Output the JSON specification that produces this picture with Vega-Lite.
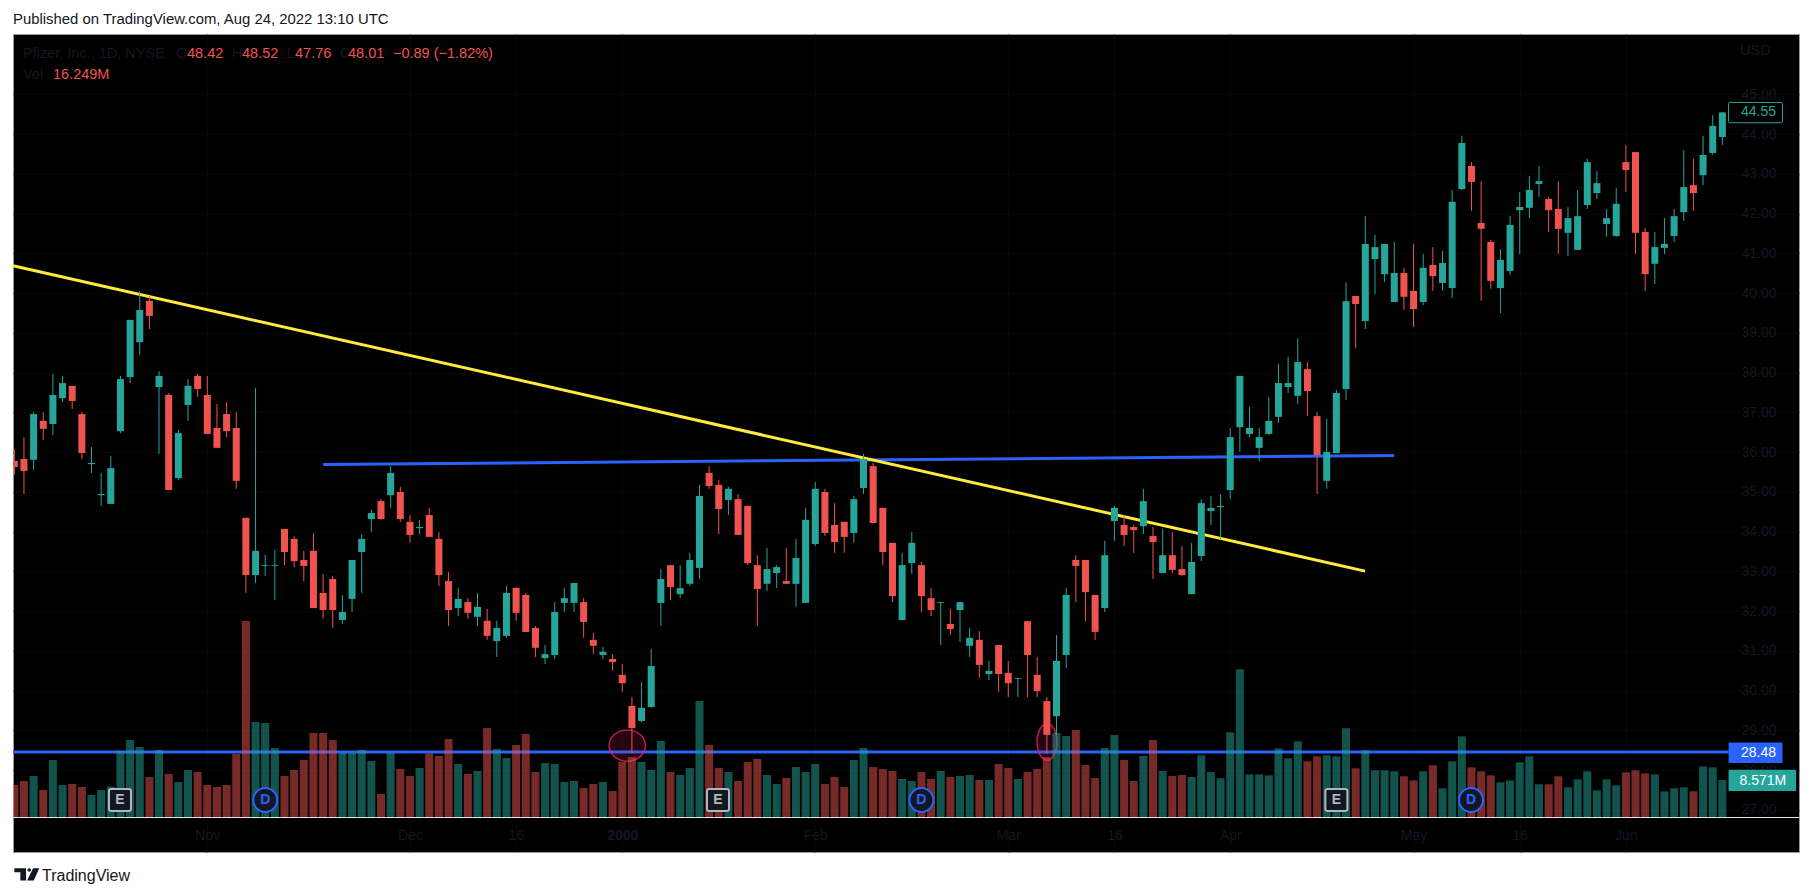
{
"$schema":"https://vega.github.io/schema/vega-lite/v6.json",
"width":1786,"height":818,"autosize":"none",
"padding":{"left":13,"top":34,"right":14,"bottom":44},
"background":"#ffffff",
"view":{"fill":"#000000","stroke":"#9598a1","strokeWidth":1},
"config":{"font":"Liberation Sans"},
"title":{"text":"Published on TradingView.com, Aug 24, 2022 13:10 UTC","anchor":"start","frame":"group","orient":"top","offset":7,"fontSize":14.9,"fontWeight":"normal","color":"#131722"},
"datasets":{
"candles":[
{"i":0,"open":35.78,"close":35.63,"high":36.08,"low":35.43,"vol":7.41,"dir":"d"},
{"i":1,"open":35.83,"close":35.53,"high":36.38,"low":34.95,"vol":8.34,"dir":"d"},
{"i":2,"open":35.81,"close":36.96,"high":37.01,"low":35.55,"vol":9.5,"dir":"u"},
{"i":3,"open":36.79,"close":36.59,"high":37.01,"low":36.31,"vol":6.25,"dir":"d"},
{"i":4,"open":36.71,"close":37.44,"high":37.97,"low":36.43,"vol":13.2,"dir":"u"},
{"i":5,"open":37.36,"close":37.74,"high":37.92,"low":37.26,"vol":7.41,"dir":"u"},
{"i":6,"open":37.67,"close":37.29,"high":37.67,"low":37.09,"vol":7.64,"dir":"d"},
{"i":7,"open":36.96,"close":35.98,"high":37.01,"low":35.83,"vol":6.95,"dir":"d"},
{"i":8,"open":35.7,"close":35.73,"high":36.13,"low":35.48,"vol":5.1,"dir":"u"},
{"i":9,"open":34.92,"close":34.95,"high":35.48,"low":34.65,"vol":6.25,"dir":"u"},
{"i":10,"open":34.7,"close":35.6,"high":35.91,"low":34.7,"vol":7.03,"dir":"u"},
{"i":11,"open":36.53,"close":37.84,"high":37.92,"low":36.48,"vol":15.29,"dir":"u"},
{"i":12,"open":37.89,"close":39.33,"high":39.33,"low":37.74,"vol":17.83,"dir":"u"},
{"i":13,"open":38.77,"close":39.58,"high":40.06,"low":38.45,"vol":16.21,"dir":"u"},
{"i":14,"open":39.81,"close":39.43,"high":39.93,"low":39.1,"vol":9.26,"dir":"d"},
{"i":15,"open":37.64,"close":37.92,"high":38.04,"low":35.96,"vol":15.52,"dir":"u"},
{"i":16,"open":37.44,"close":35.05,"high":37.49,"low":35.05,"vol":9.96,"dir":"d"},
{"i":17,"open":35.35,"close":36.48,"high":36.56,"low":35.3,"vol":8.11,"dir":"u"},
{"i":18,"open":37.19,"close":37.67,"high":37.84,"low":36.79,"vol":10.89,"dir":"u"},
{"i":19,"open":37.92,"close":37.59,"high":37.97,"low":37.39,"vol":10.42,"dir":"d"},
{"i":20,"open":37.44,"close":36.46,"high":37.92,"low":36.46,"vol":7.41,"dir":"d"},
{"i":21,"open":36.61,"close":36.11,"high":37.21,"low":36.11,"vol":6.95,"dir":"d"},
{"i":22,"open":36.96,"close":36.53,"high":37.26,"low":36.38,"vol":7.41,"dir":"d"},
{"i":23,"open":36.61,"close":35.28,"high":37.01,"low":35.08,"vol":14.59,"dir":"d"},
{"i":24,"open":34.35,"close":32.91,"high":34.35,"low":32.46,"vol":45.39,"dir":"d"},
{"i":25,"open":32.91,"close":33.52,"high":37.62,"low":32.71,"vol":22.0,"dir":"u"},
{"i":26,"open":33.14,"close":33.16,"high":33.42,"low":32.89,"vol":21.77,"dir":"u"},
{"i":27,"open":33.14,"close":33.16,"high":33.54,"low":32.28,"vol":15.98,"dir":"u"},
{"i":28,"open":34.07,"close":33.49,"high":34.07,"low":33.16,"vol":9.5,"dir":"d"},
{"i":29,"open":33.82,"close":33.26,"high":33.89,"low":33.11,"vol":10.89,"dir":"d"},
{"i":30,"open":33.29,"close":33.14,"high":33.52,"low":32.76,"vol":13.2,"dir":"d"},
{"i":31,"open":33.52,"close":32.08,"high":33.97,"low":32.08,"vol":19.45,"dir":"d"},
{"i":32,"open":32.46,"close":32.03,"high":32.94,"low":31.81,"vol":19.45,"dir":"d"},
{"i":33,"open":32.81,"close":32.03,"high":32.89,"low":31.58,"vol":17.83,"dir":"d"},
{"i":34,"open":31.78,"close":31.98,"high":32.41,"low":31.68,"vol":14.82,"dir":"u"},
{"i":35,"open":32.31,"close":33.29,"high":33.29,"low":31.98,"vol":14.82,"dir":"u"},
{"i":36,"open":33.49,"close":33.82,"high":33.94,"low":32.46,"vol":15.52,"dir":"u"},
{"i":37,"open":34.32,"close":34.47,"high":34.55,"low":33.99,"vol":12.97,"dir":"u"},
{"i":38,"open":34.77,"close":34.32,"high":34.82,"low":34.3,"vol":5.33,"dir":"d"},
{"i":39,"open":34.92,"close":35.48,"high":35.65,"low":34.6,"vol":14.82,"dir":"u"},
{"i":40,"open":35.0,"close":34.32,"high":35.13,"low":34.25,"vol":11.12,"dir":"d"},
{"i":41,"open":34.25,"close":33.92,"high":34.42,"low":33.72,"vol":9.5,"dir":"d"},
{"i":42,"open":34.09,"close":34.12,"high":34.3,"low":33.94,"vol":11.35,"dir":"u"},
{"i":43,"open":34.42,"close":33.87,"high":34.6,"low":33.87,"vol":14.67,"dir":"d"},
{"i":44,"open":33.82,"close":32.91,"high":33.99,"low":32.64,"vol":14.13,"dir":"d"},
{"i":45,"open":32.76,"close":32.03,"high":32.99,"low":31.63,"vol":18.06,"dir":"d"},
{"i":46,"open":32.08,"close":32.31,"high":32.59,"low":31.88,"vol":12.27,"dir":"u"},
{"i":47,"open":32.23,"close":31.96,"high":32.33,"low":31.81,"vol":9.96,"dir":"d"},
{"i":48,"open":31.86,"close":32.11,"high":32.46,"low":31.63,"vol":10.65,"dir":"u"},
{"i":49,"open":31.76,"close":31.38,"high":32.06,"low":31.28,"vol":20.61,"dir":"d"},
{"i":50,"open":31.25,"close":31.58,"high":31.76,"low":30.85,"vol":15.75,"dir":"u"},
{"i":51,"open":31.38,"close":32.46,"high":32.64,"low":31.33,"vol":13.66,"dir":"u"},
{"i":52,"open":32.59,"close":31.96,"high":32.59,"low":31.76,"vol":16.68,"dir":"d"},
{"i":53,"open":32.41,"close":31.48,"high":32.46,"low":31.48,"vol":19.22,"dir":"d"},
{"i":54,"open":31.58,"close":31.08,"high":31.63,"low":30.85,"vol":10.42,"dir":"d"},
{"i":55,"open":30.82,"close":30.92,"high":31.15,"low":30.67,"vol":12.51,"dir":"u"},
{"i":56,"open":30.9,"close":31.98,"high":32.23,"low":30.8,"vol":12.27,"dir":"u"},
{"i":57,"open":32.21,"close":32.33,"high":32.59,"low":31.98,"vol":8.11,"dir":"u"},
{"i":58,"open":32.21,"close":32.71,"high":32.71,"low":31.98,"vol":8.34,"dir":"u"},
{"i":59,"open":32.23,"close":31.73,"high":32.33,"low":31.33,"vol":6.72,"dir":"d"},
{"i":60,"open":31.28,"close":31.13,"high":31.45,"low":30.92,"vol":7.64,"dir":"d"},
{"i":61,"open":30.9,"close":30.98,"high":31.1,"low":30.8,"vol":8.11,"dir":"u"},
{"i":62,"open":30.8,"close":30.72,"high":30.92,"low":30.5,"vol":6.02,"dir":"d"},
{"i":63,"open":30.4,"close":30.19,"high":30.67,"low":29.97,"vol":12.74,"dir":"d"},
{"i":64,"open":29.62,"close":29.06,"high":29.84,"low":28.43,"vol":13.9,"dir":"d"},
{"i":65,"open":29.24,"close":29.57,"high":30.22,"low":29.21,"vol":12.74,"dir":"u"},
{"i":66,"open":29.59,"close":30.62,"high":31.05,"low":29.57,"vol":10.89,"dir":"u"},
{"i":67,"open":32.21,"close":32.81,"high":33.06,"low":31.63,"vol":17.6,"dir":"u"},
{"i":68,"open":33.16,"close":32.61,"high":33.16,"low":32.28,"vol":10.42,"dir":"d"},
{"i":69,"open":32.43,"close":32.58,"high":33.16,"low":32.33,"vol":9.73,"dir":"u"},
{"i":70,"open":32.69,"close":33.29,"high":33.47,"low":32.64,"vol":11.35,"dir":"u"},
{"i":71,"open":33.09,"close":34.9,"high":35.18,"low":32.81,"vol":26.87,"dir":"u"},
{"i":72,"open":35.48,"close":35.15,"high":35.65,"low":35.08,"vol":16.68,"dir":"d"},
{"i":73,"open":35.18,"close":34.57,"high":35.3,"low":33.94,"vol":11.35,"dir":"d"},
{"i":74,"open":34.8,"close":35.08,"high":35.13,"low":34.42,"vol":10.42,"dir":"u"},
{"i":75,"open":34.82,"close":33.92,"high":34.95,"low":33.92,"vol":8.34,"dir":"d"},
{"i":76,"open":34.65,"close":33.21,"high":34.65,"low":33.16,"vol":12.74,"dir":"d"},
{"i":77,"open":33.16,"close":32.56,"high":33.41,"low":31.63,"vol":13.43,"dir":"d"},
{"i":78,"open":32.69,"close":33.06,"high":33.59,"low":32.51,"vol":9.73,"dir":"u"},
{"i":79,"open":32.96,"close":33.11,"high":33.16,"low":32.58,"vol":7.64,"dir":"u"},
{"i":80,"open":32.76,"close":32.69,"high":33.59,"low":32.69,"vol":9.03,"dir":"d"},
{"i":81,"open":32.69,"close":33.34,"high":33.82,"low":32.11,"vol":11.58,"dir":"u"},
{"i":82,"open":32.21,"close":34.3,"high":34.6,"low":32.21,"vol":10.42,"dir":"u"},
{"i":83,"open":33.69,"close":35.08,"high":35.25,"low":33.64,"vol":12.27,"dir":"u"},
{"i":84,"open":35.0,"close":33.97,"high":35.08,"low":33.89,"vol":7.64,"dir":"d"},
{"i":85,"open":34.17,"close":33.74,"high":34.72,"low":33.47,"vol":9.26,"dir":"d"},
{"i":86,"open":34.25,"close":33.87,"high":34.25,"low":33.47,"vol":6.95,"dir":"d"},
{"i":87,"open":33.97,"close":34.82,"high":34.9,"low":33.72,"vol":13.2,"dir":"u"},
{"i":88,"open":35.1,"close":35.83,"high":35.96,"low":34.95,"vol":15.98,"dir":"u"},
{"i":89,"open":35.65,"close":34.22,"high":35.73,"low":34.22,"vol":11.58,"dir":"d"},
{"i":90,"open":34.6,"close":33.49,"high":34.6,"low":33.16,"vol":11.12,"dir":"d"},
{"i":91,"open":33.72,"close":32.38,"high":33.72,"low":32.23,"vol":10.65,"dir":"d"},
{"i":92,"open":31.78,"close":33.16,"high":33.47,"low":31.78,"vol":8.8,"dir":"u"},
{"i":93,"open":33.21,"close":33.72,"high":33.99,"low":32.94,"vol":8.34,"dir":"u"},
{"i":94,"open":33.16,"close":32.38,"high":33.24,"low":31.98,"vol":10.42,"dir":"d"},
{"i":95,"open":32.33,"close":32.03,"high":32.58,"low":31.88,"vol":8.8,"dir":"d"},
{"i":96,"open":32.21,"close":32.23,"high":32.23,"low":31.15,"vol":10.65,"dir":"u"},
{"i":97,"open":31.68,"close":31.55,"high":32.06,"low":31.4,"vol":9.26,"dir":"d"},
{"i":98,"open":32.03,"close":32.23,"high":32.23,"low":31.23,"vol":9.5,"dir":"u"},
{"i":99,"open":31.13,"close":31.33,"high":31.58,"low":30.85,"vol":9.73,"dir":"u"},
{"i":100,"open":31.28,"close":30.65,"high":31.5,"low":30.32,"vol":8.57,"dir":"d"},
{"i":101,"open":30.42,"close":30.5,"high":30.75,"low":30.27,"vol":8.57,"dir":"u"},
{"i":102,"open":31.15,"close":30.42,"high":31.15,"low":29.97,"vol":12.27,"dir":"d"},
{"i":103,"open":30.45,"close":30.19,"high":30.75,"low":29.84,"vol":11.35,"dir":"d"},
{"i":104,"open":30.3,"close":30.32,"high":30.32,"low":29.84,"vol":8.8,"dir":"u"},
{"i":105,"open":31.75,"close":30.9,"high":31.75,"low":29.84,"vol":10.42,"dir":"d"},
{"i":106,"open":30.4,"close":29.99,"high":30.85,"low":29.84,"vol":11.12,"dir":"d"},
{"i":107,"open":29.74,"close":28.89,"high":29.84,"low":28.41,"vol":13.9,"dir":"d"},
{"i":108,"open":29.36,"close":30.75,"high":31.4,"low":28.89,"vol":19.45,"dir":"u"},
{"i":109,"open":30.9,"close":32.41,"high":32.58,"low":30.57,"vol":18.76,"dir":"u"},
{"i":110,"open":33.29,"close":33.14,"high":33.41,"low":32.23,"vol":20.15,"dir":"d"},
{"i":111,"open":33.29,"close":32.48,"high":33.29,"low":31.75,"vol":12.04,"dir":"d"},
{"i":112,"open":32.41,"close":31.48,"high":32.41,"low":31.28,"vol":9.03,"dir":"d"},
{"i":113,"open":32.08,"close":33.41,"high":33.77,"low":31.98,"vol":15.98,"dir":"u"},
{"i":114,"open":34.27,"close":34.6,"high":34.65,"low":33.77,"vol":18.99,"dir":"u"},
{"i":115,"open":34.17,"close":33.92,"high":34.42,"low":33.64,"vol":13.2,"dir":"d"},
{"i":116,"open":34.12,"close":34.04,"high":34.17,"low":33.47,"vol":8.34,"dir":"d"},
{"i":117,"open":34.14,"close":34.77,"high":35.08,"low":33.94,"vol":14.13,"dir":"u"},
{"i":118,"open":33.89,"close":33.74,"high":34.12,"low":32.81,"vol":17.83,"dir":"d"},
{"i":119,"open":32.96,"close":33.41,"high":34.07,"low":32.96,"vol":10.65,"dir":"u"},
{"i":120,"open":33.41,"close":33.04,"high":33.99,"low":32.96,"vol":9.5,"dir":"d"},
{"i":121,"open":33.06,"close":32.91,"high":33.64,"low":32.89,"vol":9.73,"dir":"d"},
{"i":122,"open":32.43,"close":33.24,"high":33.72,"low":32.43,"vol":9.26,"dir":"u"},
{"i":123,"open":33.39,"close":34.72,"high":34.82,"low":33.26,"vol":14.3,"dir":"u"},
{"i":124,"open":34.52,"close":34.6,"high":34.9,"low":34.17,"vol":10.4,"dir":"u"},
{"i":125,"open":34.62,"close":34.65,"high":34.95,"low":33.81,"vol":8.96,"dir":"u"},
{"i":126,"open":35.05,"close":36.38,"high":36.61,"low":34.82,"vol":19.61,"dir":"u"},
{"i":127,"open":36.63,"close":37.92,"high":37.92,"low":36.01,"vol":34.2,"dir":"u"},
{"i":128,"open":36.46,"close":36.61,"high":37.14,"low":36.38,"vol":9.88,"dir":"u"},
{"i":129,"open":36.11,"close":36.38,"high":36.61,"low":35.78,"vol":9.88,"dir":"u"},
{"i":130,"open":36.46,"close":36.79,"high":37.39,"low":36.43,"vol":9.65,"dir":"u"},
{"i":131,"open":36.89,"close":37.74,"high":38.22,"low":36.74,"vol":15.9,"dir":"u"},
{"i":132,"open":37.64,"close":37.74,"high":38.4,"low":37.49,"vol":13.59,"dir":"u"},
{"i":133,"open":37.42,"close":38.27,"high":38.87,"low":37.21,"vol":17.52,"dir":"u"},
{"i":134,"open":38.09,"close":37.54,"high":38.27,"low":36.91,"vol":12.89,"dir":"d"},
{"i":135,"open":36.91,"close":35.93,"high":37.01,"low":34.95,"vol":14.05,"dir":"d"},
{"i":136,"open":35.28,"close":36.01,"high":36.84,"low":35.08,"vol":14.28,"dir":"u"},
{"i":137,"open":35.98,"close":37.49,"high":37.57,"low":35.98,"vol":14.05,"dir":"u"},
{"i":138,"open":37.59,"close":39.8,"high":40.28,"low":37.31,"vol":20.54,"dir":"u"},
{"i":139,"open":39.93,"close":39.73,"high":39.93,"low":38.62,"vol":11.27,"dir":"d"},
{"i":140,"open":39.3,"close":41.24,"high":41.94,"low":39.1,"vol":15.44,"dir":"u"},
{"i":141,"open":40.86,"close":41.16,"high":41.47,"low":39.98,"vol":10.81,"dir":"u"},
{"i":142,"open":40.48,"close":41.24,"high":41.24,"low":40.28,"vol":10.81,"dir":"u"},
{"i":143,"open":39.78,"close":40.51,"high":41.29,"low":39.78,"vol":10.58,"dir":"u"},
{"i":144,"open":40.51,"close":39.91,"high":40.64,"low":39.58,"vol":9.42,"dir":"d"},
{"i":145,"open":40.06,"close":39.6,"high":41.24,"low":39.15,"vol":8.49,"dir":"d"},
{"i":146,"open":39.78,"close":40.64,"high":40.99,"low":39.7,"vol":10.58,"dir":"u"},
{"i":147,"open":40.71,"close":40.43,"high":41.16,"low":40.06,"vol":11.97,"dir":"d"},
{"i":148,"open":40.26,"close":40.76,"high":41.06,"low":40.06,"vol":6.64,"dir":"u"},
{"i":149,"open":40.13,"close":42.3,"high":42.6,"low":39.88,"vol":12.89,"dir":"u"},
{"i":150,"open":42.62,"close":43.78,"high":43.96,"low":42.6,"vol":18.68,"dir":"u"},
{"i":151,"open":43.2,"close":42.8,"high":43.3,"low":42.07,"vol":11.5,"dir":"d"},
{"i":152,"open":41.77,"close":41.62,"high":42.82,"low":39.81,"vol":10.58,"dir":"d"},
{"i":153,"open":41.29,"close":40.31,"high":41.34,"low":40.11,"vol":9.65,"dir":"d"},
{"i":154,"open":40.13,"close":40.84,"high":41.11,"low":39.5,"vol":8.03,"dir":"u"},
{"i":155,"open":40.56,"close":41.72,"high":41.94,"low":40.46,"vol":8.49,"dir":"u"},
{"i":156,"open":42.09,"close":42.17,"high":42.55,"low":40.99,"vol":12.66,"dir":"u"},
{"i":157,"open":42.15,"close":42.6,"high":42.95,"low":41.89,"vol":14.05,"dir":"u"},
{"i":158,"open":42.75,"close":42.82,"high":43.2,"low":42.42,"vol":7.57,"dir":"u"},
{"i":159,"open":42.37,"close":42.09,"high":42.42,"low":41.54,"vol":7.57,"dir":"d"},
{"i":160,"open":42.12,"close":41.62,"high":42.82,"low":40.99,"vol":9.42,"dir":"d"},
{"i":161,"open":41.52,"close":41.89,"high":42.17,"low":40.94,"vol":6.87,"dir":"u"},
{"i":162,"open":41.09,"close":41.94,"high":42.6,"low":41.09,"vol":8.72,"dir":"u"},
{"i":163,"open":42.22,"close":43.3,"high":43.38,"low":42.12,"vol":10.58,"dir":"u"},
{"i":164,"open":42.52,"close":42.77,"high":43.08,"low":42.37,"vol":6.18,"dir":"u"},
{"i":165,"open":41.74,"close":41.89,"high":42.12,"low":41.42,"vol":8.72,"dir":"u"},
{"i":166,"open":41.44,"close":42.25,"high":42.65,"low":41.42,"vol":7.33,"dir":"u"},
{"i":167,"open":43.3,"close":43.1,"high":43.73,"low":42.55,"vol":10.34,"dir":"d"},
{"i":168,"open":43.55,"close":41.52,"high":43.55,"low":40.99,"vol":10.81,"dir":"d"},
{"i":169,"open":41.54,"close":40.48,"high":41.64,"low":40.06,"vol":10.11,"dir":"d"},
{"i":170,"open":40.74,"close":41.16,"high":41.54,"low":40.23,"vol":9.88,"dir":"u"},
{"i":171,"open":41.14,"close":41.24,"high":41.89,"low":40.99,"vol":5.94,"dir":"u"},
{"i":172,"open":41.44,"close":41.94,"high":42.12,"low":41.29,"vol":6.64,"dir":"u"},
{"i":173,"open":42.04,"close":42.67,"high":43.6,"low":41.82,"vol":6.87,"dir":"u"},
{"i":174,"open":42.72,"close":42.52,"high":43.38,"low":42.07,"vol":5.94,"dir":"d"},
{"i":175,"open":42.97,"close":43.48,"high":43.96,"low":42.72,"vol":11.73,"dir":"u"},
{"i":176,"open":43.53,"close":44.21,"high":44.48,"low":43.48,"vol":11.5,"dir":"u"},
{"i":177,"open":43.93,"close":44.55,"high":44.55,"low":43.73,"vol":8.57,"dir":"u"}
],
"blueLines":[
{"line":"resistance","i":32,"price":35.69},
{"line":"resistance","i":143,"price":35.92},
{"line":"support","i":-0.135,"price":28.46},
{"line":"support","i":177.64,"price":28.46}
],
"trend":[{"i":-0.135,"price":40.69},{"i":139.97,"price":33.01}],
"dark":[
{"i":0.9,"price":46.02,"label":"Pfizer, Inc., 1D, NYSE"},
{"i":16.76,"price":46.02,"label":"O"},
{"i":22.56,"price":46.02,"label":"H"},
{"i":28.26,"price":46.02,"label":"L"},
{"i":33.75,"price":46.02,"label":"C"},
{"i":0.9,"price":45.49,"label":"Vol"},
{"i":178.83,"price":46.09,"label":"USD"}
],
"red":[
{"i":17.9,"price":46.02,"label":"48.42"},
{"i":23.6,"price":46.02,"label":"48.52"},
{"i":29.09,"price":46.02,"label":"47.76"},
{"i":34.58,"price":46.02,"label":"48.01"},
{"i":39.24,"price":46.02,"label":"−0.89 (−1.82%)"},
{"i":4.01,"price":45.49,"label":"16.249M"}
],
"earnings":[{"i":10.95,"price":27.25,"label":"E"},{"i":72.92,"price":27.25,"label":"E"},{"i":137.0,"price":27.25,"label":"E"}],
"dividends":[{"i":26.0,"price":27.25,"label":"D"},{"i":94.0,"price":27.25,"label":"D"},{"i":150.95,"price":27.25,"label":"D"}]
},
"resolve":{"scale":{"y":"independent"}},
"encoding":{"x":{"field":"i","type":"quantitative","title":null,"scale":{"domain":[-0.135,184.94],"nice":false,"zero":false,"padding":0},
"axis":{"values":[20,41,52,63,83,103,114,126,145,156,167],"offset":-35,"ticks":false,"domainColor":"#e8e8e8","domainWidth":1,"gridColor":"#07070a","grid":true,"labelColor":"#131722","labelFontSize":14,"labelPadding":11,"labelFlush":false,"labelOverlap":false,
"labelExpr":"{'20':'Nov','41':'Dec','52':'16','63':'2000','83':'Feb','103':'Mar','114':'16','126':'Apr','145':'May','156':'16','167':'Jun'}[datum.value]",
"labelFontWeight":{"condition":{"test":"datum.value === 63","value":"bold"},"value":"normal"}}}},
"layer":[
{"data":{"name":"blueLines"},"mark":{"type":"line","color":"#2962ff","strokeWidth":3},
"encoding":{"detail":{"field":"line"},"y":{"field":"price","type":"quantitative","title":null,"scale":{"domain":[25.943,46.522],"nice":false,"zero":false},
"axis":{"values":[27,28,29,30,31,32,33,34,35,36,37,38,39,40,41,42,43,44,45],"orient":"right","offset":-72,"domain":false,"ticks":false,"format":".2f","gridColor":"#07070a","grid":true,"labelColor":"#131722","labelFontSize":14,"labelPadding":14,"labelOverlap":false}}}},
{"data":{"name":"trend"},"mark":{"type":"line","color":"#ffeb3b","strokeWidth":3},
"encoding":{"y":{"field":"price","type":"quantitative","scale":{"domain":[25.943,46.522],"nice":false,"zero":false},"axis":null}}},
{"data":{"values":[{"i":63.52,"price":28.62}]},"mark":{"type":"point","filled":true,"shape":"M-1,0A1,0.86,0,1,1,1,0A1,0.86,0,1,1,-1,0Z","size":1325,"fill":"#e91e63","fillOpacity":0.16,"stroke":"#e91e63","strokeOpacity":0.8,"strokeWidth":1.5},
"encoding":{"y":{"field":"price","type":"quantitative","scale":{"domain":[25.943,46.522],"nice":false,"zero":false},"axis":null}}},
{"data":{"values":[{"i":107.02,"price":28.71}]},"mark":{"type":"point","filled":true,"shape":"M-0.546,0A0.546,1,0,1,1,0.546,0A0.546,1,0,1,1,-0.546,0Z","size":1340,"fill":"#e91e63","fillOpacity":0.16,"stroke":"#e91e63","strokeOpacity":0.8,"strokeWidth":1.5},
"encoding":{"y":{"field":"price","type":"quantitative","scale":{"domain":[25.943,46.522],"nice":false,"zero":false},"axis":null}}},
{"data":{"name":"candles"},"mark":{"type":"bar","size":8,"opacity":0.5,"clip":true},
"encoding":{"y":{"field":"vol","type":"quantitative","scale":{"domain":[-8.106,181.34],"nice":false,"zero":false},"axis":null},"y2":{"datum":0},
"color":{"field":"dir","type":"nominal","legend":null,"scale":{"domain":["u","d"],"range":["#26a69a","#ef5350"]}}}},
{"data":{"name":"candles"},"mark":{"type":"rule","strokeWidth":1,"clip":true},
"encoding":{"y":{"field":"low","type":"quantitative","scale":{"domain":[25.943,46.522],"nice":false,"zero":false},"axis":null},"y2":{"field":"high"},
"color":{"field":"dir","type":"nominal","legend":null,"scale":{"domain":["u","d"],"range":["#26a69a","#ef5350"]}}}},
{"data":{"name":"candles"},"mark":{"type":"bar","size":7,"clip":true},
"encoding":{"y":{"field":"open","type":"quantitative","scale":{"domain":[25.943,46.522],"nice":false,"zero":false},"axis":null},"y2":{"field":"close"},
"color":{"field":"dir","type":"nominal","legend":null,"scale":{"domain":["u","d"],"range":["#26a69a","#ef5350"]}}}},
{"data":{"name":"earnings"},"mark":{"type":"point","filled":true,"shape":"M-0.8,-1L0.8,-1Q1,-1,1,-0.8L1,0.8Q1,1,0.8,1L-0.8,1Q-1,1,-1,0.8L-1,-0.8Q-1,-1,-0.8,-1Z","size":484,"fill":"#131722","stroke":"#b2b5be","strokeWidth":2,"opacity":1},
"encoding":{"y":{"field":"price","type":"quantitative","scale":{"domain":[25.943,46.522],"nice":false,"zero":false},"axis":null}}},
{"data":{"name":"earnings"},"mark":{"type":"text","fontSize":14,"fontWeight":"bold","color":"#b2b5be","baseline":"middle"},
"encoding":{"text":{"field":"label"},"y":{"field":"price","type":"quantitative","scale":{"domain":[25.943,46.522],"nice":false,"zero":false},"axis":null}}},
{"data":{"name":"dividends"},"mark":{"type":"point","filled":true,"shape":"circle","size":576,"fill":"#131722","stroke":"#2962ff","strokeWidth":2,"opacity":1},
"encoding":{"y":{"field":"price","type":"quantitative","scale":{"domain":[25.943,46.522],"nice":false,"zero":false},"axis":null}}},
{"data":{"name":"dividends"},"mark":{"type":"text","fontSize":14,"fontWeight":"bold","color":"#2962ff","baseline":"middle"},
"encoding":{"text":{"field":"label"},"y":{"field":"price","type":"quantitative","scale":{"domain":[25.943,46.522],"nice":false,"zero":false},"axis":null}}},
{"data":{"values":[{"i":177.64,"i2":183.23,"p1":44.8,"p2":44.29}]},"mark":{"type":"rect","fill":"#000000","stroke":"#26a69a","strokeWidth":1,"cornerRadius":1},
"encoding":{"x2":{"field":"i2"},"y":{"field":"p1","type":"quantitative","scale":{"domain":[25.943,46.522],"nice":false,"zero":false},"axis":null},"y2":{"field":"p2"}}},
{"data":{"values":[{"i":177.64,"i2":183.23,"p1":28.7,"p2":28.18}]},"mark":{"type":"rect","fill":"#2962ff","cornerRadius":1},
"encoding":{"x2":{"field":"i2"},"y":{"field":"p1","type":"quantitative","scale":{"domain":[25.943,46.522],"nice":false,"zero":false},"axis":null},"y2":{"field":"p2"}}},
{"data":{"values":[{"i":177.64,"i2":184.63,"p1":28.01,"p2":27.48}]},"mark":{"type":"rect","fill":"#26a69a","cornerRadius":1},
"encoding":{"x2":{"field":"i2"},"y":{"field":"p1","type":"quantitative","scale":{"domain":[25.943,46.522],"nice":false,"zero":false},"axis":null},"y2":{"field":"p2"}}},
{"data":{"values":[{"i":180.74,"price":44.55,"label":"44.55"}]},"mark":{"type":"text","fontSize":14,"color":"#26a69a","baseline":"middle"},
"encoding":{"text":{"field":"label"},"y":{"field":"price","type":"quantitative","scale":{"domain":[25.943,46.522],"nice":false,"zero":false},"axis":null}}},
{"data":{"values":[{"i":180.74,"price":28.44,"label":"28.48"},{"i":181.2,"price":27.74,"label":"8.571M"}]},"mark":{"type":"text","fontSize":14,"color":"#ffffff","baseline":"middle"},
"encoding":{"text":{"field":"label"},"y":{"field":"price","type":"quantitative","scale":{"domain":[25.943,46.522],"nice":false,"zero":false},"axis":null}}},
{"data":{"name":"dark"},"mark":{"type":"text","fontSize":14.5,"color":"#131722","align":"left","baseline":"middle"},
"encoding":{"text":{"field":"label"},"y":{"field":"price","type":"quantitative","scale":{"domain":[25.943,46.522],"nice":false,"zero":false},"axis":null}}},
{"data":{"name":"red"},"mark":{"type":"text","fontSize":14.5,"color":"#ef5350","align":"left","baseline":"middle"},
"encoding":{"text":{"field":"label"},"y":{"field":"price","type":"quantitative","scale":{"domain":[25.943,46.522],"nice":false,"zero":false},"axis":null}}},
{"data":{"values":[{"i":1.3,"price":25.38}]},"mark":{"type":"point","filled":true,"shape":"M-1,-0.49L-0.06,-0.49L-0.06,0.49L-0.52,0.49L-0.52,-0.17L-1,-0.17ZM0.05,-0.36A0.13,0.13,0,1,1,0.33,-0.36A0.13,0.13,0,1,1,0.05,-0.36ZM0.5,-0.49L1,-0.49L0.55,0.49L0.02,0.49Z","size":625,"fill":"#131722","opacity":1},
"encoding":{"y":{"field":"price","type":"quantitative","scale":{"domain":[25.943,46.522],"nice":false,"zero":false},"axis":null}}},
{"data":{"values":[{"i":2.87,"price":25.33,"label":"TradingView"}]},"mark":{"type":"text","fontSize":16,"color":"#131722","align":"left","baseline":"middle"},
"encoding":{"text":{"field":"label"},"y":{"field":"price","type":"quantitative","scale":{"domain":[25.943,46.522],"nice":false,"zero":false},"axis":null}}}
]
}
